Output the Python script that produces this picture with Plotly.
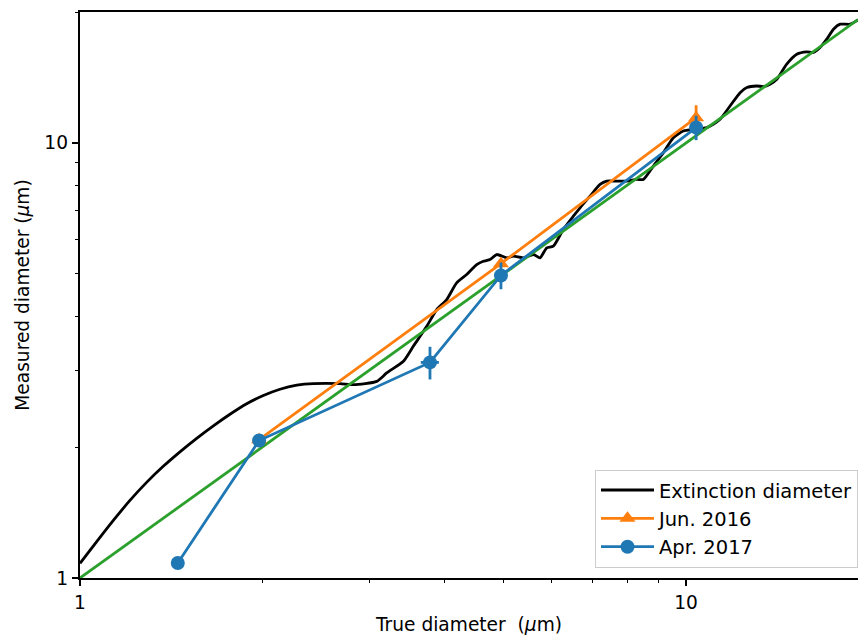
import plotly.graph_objects as go
import math

# Extinction diameter curve (true vs measured, um)
ext_x = [1.000, 1.0655, 1.135, 1.209, 1.288, 1.372, 1.462, 1.558, 1.660, 1.768, 1.884, 2.007, 2.138,
         2.279, 2.427, 2.685, 2.825, 3.088, 3.207,
         3.417, 3.548, 3.734, 3.878, 4.028, 4.183, 4.346, 4.514, 4.629, 4.749, 4.871, 5.059, 5.188,
         5.389, 5.598, 5.742, 5.890, 6.039, 6.273, 6.517, 6.685, 6.944, 7.213, 7.399, 7.686, 7.983,
         8.293, 8.503, 8.833, 9.175, 9.529, 9.897, 10.41, 10.82, 11.09, 11.38, 11.82, 12.28, 12.60,
         13.08, 13.42, 13.76, 14.12, 14.66, 15.23, 15.82, 16.22, 16.64, 17.07, 17.51, 17.96, 18.65, 19.22]
ext_y = [1.081, 1.212, 1.356, 1.508, 1.659, 1.806, 1.950, 2.095, 2.238, 2.379, 2.515, 2.627, 2.716,
         2.774, 2.797, 2.797, 2.782, 2.831, 2.960,
         3.148, 3.408, 3.789, 4.140, 4.365, 4.769, 4.983, 5.254, 5.347, 5.395, 5.541, 5.445, 5.491,
         5.445, 5.541, 5.445, 5.741, 5.789, 6.328, 6.786, 7.096, 7.547, 8.029, 8.171, 8.171, 8.171,
         8.245, 8.245, 8.850, 9.499, 10.28, 10.65, 10.75, 10.85, 11.04, 11.33, 12.16, 13.05, 13.41,
         13.52, 13.48, 13.65, 14.01, 15.17, 15.99, 16.19, 16.14, 16.57, 17.32, 18.26, 18.75, 18.75, 19.18]

# 1:1 reference line
ideal_x = [1.0, 19.22]
ideal_y = [1.0, 19.22]

# Jun. 2016
jun_x = [1.975, 4.95, 10.39]
jun_y = [2.08, 5.28, 11.43]
jun_yerr = [0.04, 0.10, 0.78]
jun_xerr = [0.03, 0.05, 0.10]

# Apr. 2017
apr_x = [1.45, 1.975, 3.78, 4.95, 10.39]
apr_y = [1.083, 2.07, 3.13, 4.96, 10.85]
apr_yerr = [0.03, 0.04, 0.27, 0.35, 0.70]
apr_xerr = [0.03, 0.03, 0.13, 0.05, 0.10]

x_major = [1, 10]
x_major_text = ["1", "10"]
y_major = [1, 10]
y_major_text = ["1", "10"]
minor_vals = [2, 3, 4, 5, 6, 7, 8, 9, 20]

FONT = "DejaVu Sans"
FS = 18.6
LW = 2.8

fig = go.Figure()
fig.add_trace(go.Scatter(x=ext_x, y=ext_y, mode="lines", name="Extinction diameter",
                         line=dict(color="black", width=LW, shape="spline", smoothing=0.6),
                         legendgroup="a"))
fig.add_trace(go.Scatter(x=ideal_x, y=ideal_y, mode="lines", showlegend=False,
                         line=dict(color="#2ca02c", width=LW)))
fig.add_trace(go.Scatter(x=jun_x, y=jun_y, mode="lines+markers", name="Jun. 2016", legendgroup="b",
                         line=dict(color="#ff7f0e", width=LW),
                         marker=dict(symbol="triangle-up", size=14, color="#ff7f0e"),
                         error_y=dict(type="data", array=jun_yerr, color="#ff7f0e", thickness=LW, width=0),
                         error_x=dict(type="data", array=jun_xerr, color="#ff7f0e", thickness=LW, width=0)))
fig.add_trace(go.Scatter(x=apr_x, y=apr_y, mode="lines+markers", name="Apr. 2017", legendgroup="c",
                         line=dict(color="#1f77b4", width=LW),
                         marker=dict(symbol="circle", size=14, color="#1f77b4"),
                         error_y=dict(type="data", array=apr_yerr, color="#1f77b4", thickness=LW, width=0),
                         error_x=dict(type="data", array=apr_xerr, color="#1f77b4", thickness=LW, width=0)))

axis_common = dict(
    type="log", showgrid=False, zeroline=False,
    showline=True, linecolor="black", linewidth=1.5,
    ticks="outside", ticklen=6.5, tickwidth=1.5, tickcolor="black",
    tickfont=dict(family=FONT, size=FS, color="black"),
    minor=dict(tickvals=minor_vals, ticks="outside", ticklen=3.7, tickwidth=1.2, tickcolor="black"),
)

fig.update_xaxes(**axis_common, range=[0, math.log10(19.22)], tickvals=x_major, ticktext=x_major_text,
                 mirror=True,
                 title=dict(text="True diameter  (<i>μ</i>m)", font=dict(family=FONT, size=FS, color="black"),
                            standoff=6))
fig.update_yaxes(**axis_common, range=[0, math.log10(20)], tickvals=y_major, ticktext=y_major_text,
                 mirror=False,
                 title=dict(text="Measured diameter (<i>μ</i>m)", font=dict(family=FONT, size=FS, color="black"),
                            standoff=10))

fig.update_layout(
    width=858, height=636,
    margin=dict(l=80, r=0, t=12, b=58),
    plot_bgcolor="white", paper_bgcolor="white",
    font=dict(family=FONT, size=FS, color="black"),
    legend=dict(x=1, xanchor="right", y=0.018, yanchor="bottom",
                bgcolor="rgba(255,255,255,0.8)", bordercolor="#cccccc", borderwidth=1,
                font=dict(family=FONT, size=19.5, color="black"),
                itemwidth=53,
                traceorder="grouped", tracegroupgap=0),
)

fig.write_html("out.html")
